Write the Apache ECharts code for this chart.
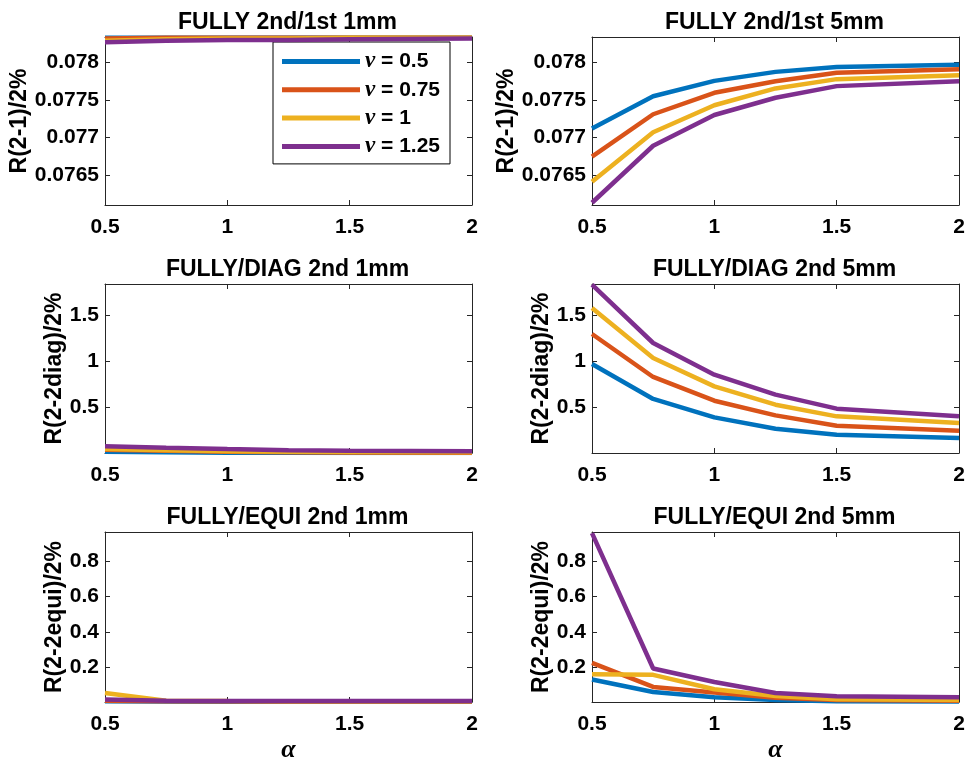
<!DOCTYPE html>
<html>
<head>
<meta charset="utf-8">
<script src="https://cdn.jsdelivr.net/npm/echarts@6/dist/echarts.min.js"></script>
<style>
html,body{margin:0;padding:0;background:#fff;}
#chart{width:965px;height:760px;}
</style>
</head>
<body>
<div id="chart"></div>
<script>
// ---- data ----
const alpha = [0.5, 0.75, 1, 1.25, 1.5, 2];
const nuNames = ['\u03bd = 0.5', '\u03bd = 0.75', '\u03bd = 1', '\u03bd = 1.25'];
const colors = ['#0072BD', '#D95319', '#EDB120', '#7E2F8E'];

const panelTitles = ['FULLY 2nd/1st 1mm', 'FULLY 2nd/1st 5mm',
  'FULLY/DIAG 2nd 1mm', 'FULLY/DIAG 2nd 5mm',
  'FULLY/EQUI 2nd 1mm', 'FULLY/EQUI 2nd 5mm'];
const yNames = ['R(2-1)/2%', 'R(2-2diag)/2%', 'R(2-2equi)/2%'];
const xName = '\u03b1';

// R(2-1), 1mm
const r21_1mm_nu050 = [0.07833, 0.07833, 0.07833, 0.07833, 0.07833, 0.07833];
const r21_1mm_nu075 = [0.07832, 0.07833, 0.07833, 0.07833, 0.07833, 0.07833];
const r21_1mm_nu100 = [0.07829, 0.07831, 0.07832, 0.07832, 0.07833, 0.07833];
const r21_1mm_nu125 = [0.07827, 0.07829, 0.07830, 0.07830, 0.07831, 0.07832];
// R(2-1), 5mm
const r21_5mm_nu050 = [0.07712, 0.07755, 0.077755, 0.077875, 0.07794, 0.07797];
const r21_5mm_nu075 = [0.076745, 0.07731, 0.077596, 0.077751, 0.077862, 0.07791];
const r21_5mm_nu100 = [0.07641, 0.07707, 0.07743, 0.077654, 0.077778, 0.07783];
const r21_5mm_nu125 = [0.07613, 0.07689, 0.07730, 0.07753, 0.077685, 0.07775];
// R(2-2diag), 1mm
const r22d_1mm_nu050 = [0.018, 0.012, 0.008, 0.006, 0.005, 0.005];
const r22d_1mm_nu075 = [0.040, 0.028, 0.018, 0.012, 0.009, 0.007];
const r22d_1mm_nu100 = [0.048, 0.034, 0.024, 0.018, 0.014, 0.011];
const r22d_1mm_nu125 = [0.076, 0.060, 0.047, 0.035, 0.028, 0.022];
// R(2-2diag), 5mm
const r22d_5mm_nu050 = [0.971, 0.591, 0.391, 0.268, 0.203, 0.167];
const r22d_5mm_nu075 = [1.297, 0.830, 0.572, 0.413, 0.300, 0.246];
const r22d_5mm_nu100 = [1.580, 1.036, 0.728, 0.529, 0.402, 0.330];
const r22d_5mm_nu125 = [1.833, 1.199, 0.855, 0.638, 0.486, 0.402];
// R(2-2equi), 1mm
const r22e_1mm_nu050 = [0.004, 0.003, 0.002, 0.002, 0.002, 0.002];
const r22e_1mm_nu075 = [0.008, 0.005, 0.004, 0.003, 0.003, 0.003];
const r22e_1mm_nu100 = [0.052, 0.008, 0.006, 0.005, 0.005, 0.005];
const r22e_1mm_nu125 = [0.014, 0.007, 0.006, 0.006, 0.006, 0.006];
// R(2-2equi), 5mm
const r22e_5mm_nu050 = [0.128, 0.057, 0.028, 0.012, 0.005, 0.003];
const r22e_5mm_nu075 = [0.223, 0.086, 0.055, 0.025, 0.012, 0.008];
const r22e_5mm_nu100 = [0.158, 0.155, 0.073, 0.034, 0.016, 0.011];
const r22e_5mm_nu125 = [0.962, 0.191, 0.114, 0.052, 0.033, 0.027];

// y-axis ranges and ticks per row
const yMin = [0.0761, 0.004, 0.0003];
const yMax = [0.07834, 1.84, 0.968];
const yTicks = [[0.0765, 0.077, 0.0775, 0.078], [0.5, 1, 1.5], [0.2, 0.4, 0.6, 0.8]];
const xTicks = [0.5, 1, 1.5, 2];

const panelData = [
  [r21_1mm_nu050, r21_1mm_nu075, r21_1mm_nu100, r21_1mm_nu125],
  [r21_5mm_nu050, r21_5mm_nu075, r21_5mm_nu100, r21_5mm_nu125],
  [r22d_1mm_nu050, r22d_1mm_nu075, r22d_1mm_nu100, r22d_1mm_nu125],
  [r22d_5mm_nu050, r22d_5mm_nu075, r22d_5mm_nu100, r22d_5mm_nu125],
  [r22e_1mm_nu050, r22e_1mm_nu075, r22e_1mm_nu100, r22e_1mm_nu125],
  [r22e_5mm_nu050, r22e_5mm_nu075, r22e_5mm_nu100, r22e_5mm_nu125]
];

// ---- layout ----
const FONT = '"Liberation Sans", Arial, Helvetica, sans-serif';
const SERIF = '"Liberation Serif", "DejaVu Serif", serif';
const AX = '#262626';
const colLeft = [105, 592];
const colWidth = [367, 367];
const rowTop = [37, 284, 532];
const rowHeight = [168, 169, 170];
const yNameGap = [72, 39, 39];

const grids = [], xAxes = [], yAxes = [], series = [], titles = [];
for (let p = 0; p < 6; p++) {
  const r = Math.floor(p / 2), c = p % 2;
  grids.push({left: colLeft[c], top: rowTop[r], width: colWidth[c], height: rowHeight[r],
    containLabel: false, outerBoundsMode: 'none'});
  titles.push({
    text: panelTitles[p], left: colLeft[c] + colWidth[c] / 2 - 1, top: rowTop[r] - 26, textAlign: 'center',
    padding: 0,
    textStyle: {fontFamily: FONT, fontSize: 23, fontWeight: 'bold', color: '#000'}
  });
  const lineStyle = {color: AX, width: 1};
  // bottom x axis
  xAxes.push({
    type: 'value', gridIndex: p, min: 0.5, max: 2, interval: 0.5, position: 'bottom',
    axisLine: {show: true, onZero: false, lineStyle},
    axisTick: {show: true, inside: true, length: 5, lineStyle},
    axisLabel: {show: true, margin: 12, fontFamily: FONT, fontSize: 21, fontWeight: 'bold', color: '#000',
      customValues: xTicks, formatter: v => String(v)},
    splitLine: {show: false},
    name: r === 2 ? xName : '', nameLocation: 'middle', nameGap: 35,
    nameTextStyle: {fontFamily: SERIF, fontStyle: 'italic', fontWeight: 'bold', fontSize: 26, color: '#000'}
  });
  // top x axis (box)
  xAxes.push({
    type: 'value', gridIndex: p, min: 0.5, max: 2, interval: 0.5, position: 'top',
    axisLine: {show: true, onZero: false, lineStyle},
    axisTick: {show: true, inside: true, length: 5, lineStyle},
    axisLabel: {show: false}, splitLine: {show: false}
  });
  // left y axis
  yAxes.push({
    type: 'value', gridIndex: p, min: yMin[r], max: yMax[r], position: 'left',
    axisLine: {show: true, onZero: false, lineStyle},
    axisTick: {show: true, inside: true, length: 5, lineStyle, customValues: yTicks[r]},
    axisLabel: {show: true, margin: 6, fontFamily: FONT, fontSize: 21, fontWeight: 'bold', color: '#000',
      customValues: yTicks[r], formatter: v => String(v)},
    splitLine: {show: false},
    name: yNames[r], nameLocation: 'middle', nameRotate: 90, nameGap: yNameGap[r],
    nameTextStyle: {fontFamily: FONT, fontSize: 23, fontWeight: 'bold', color: '#000'}
  });
  // right y axis (box)
  yAxes.push({
    type: 'value', gridIndex: p, min: yMin[r], max: yMax[r], position: 'right',
    axisLine: {show: true, onZero: false, lineStyle},
    axisTick: {show: true, inside: true, length: 5, lineStyle, customValues: yTicks[r]},
    axisLabel: {show: false, customValues: yTicks[r]}, splitLine: {show: false}
  });
  for (let s = 0; s < 4; s++) {
    series.push({
      type: 'line', name: nuNames[s], xAxisIndex: 2 * p, yAxisIndex: 2 * p,
      data: alpha.map((a, i) => [a, panelData[p][s][i]]),
      symbol: 'none', smooth: false, clip: true,
      lineStyle: {color: colors[s], width: 4.5}, itemStyle: {color: colors[s]},
      z: 2 + s
    });
  }
}

const chart = echarts.init(document.getElementById('chart'), null, {renderer: 'canvas'});
chart.setOption({
  animation: false,
  backgroundColor: '#fff',
  color: colors,
  title: titles,
  grid: grids,
  xAxis: xAxes,
  yAxis: yAxes,
  legend: {
    data: nuNames, orient: 'vertical', left: 273, top: 42,
    backgroundColor: '#fff', borderColor: '#000', borderWidth: 1,
    padding: [8, 10, 6, 9], itemGap: 5.3, itemWidth: 78, itemHeight: 5, icon: 'rect',
    selectedMode: false,
    formatter: name => '{nu|\u03bd}{t|' + name.slice(1) + '}',
    textStyle: {
      fontFamily: FONT, fontSize: 21, fontWeight: 'bold', color: '#000', lineHeight: 22,
      rich: {
        nu: {fontFamily: SERIF, fontStyle: 'italic', fontWeight: 'bold', fontSize: 23, color: '#000', lineHeight: 22},
        t: {fontFamily: FONT, fontSize: 21, fontWeight: 'bold', color: '#000', lineHeight: 22}
      }
    }
  },
  series: series
});
</script>
</body>
</html>
